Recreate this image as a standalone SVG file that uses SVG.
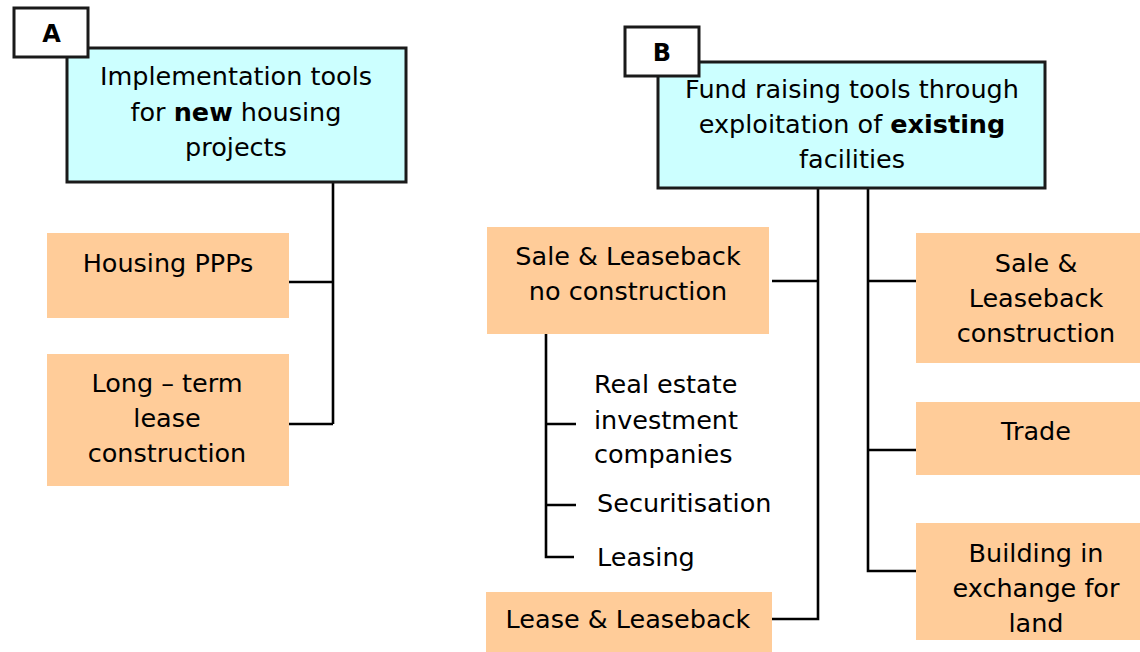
<svg xmlns="http://www.w3.org/2000/svg" width="1140" height="652" viewBox="0 0 1140 652">
<style>
.hdr{fill:#CCFFFF;stroke:#1a1a1a;stroke-width:3}
.lbl{fill:#FFFFFF;stroke:#1a1a1a;stroke-width:3}
.box{fill:#FFCC99;stroke:none}
.t{font-family:"DejaVu Sans",Verdana,sans-serif;font-size:25.5px;fill:#000}
.c{text-anchor:middle}
.b{font-weight:bold}
.lt{font-family:"DejaVu Sans",Verdana,sans-serif;font-size:24px;font-weight:bold;text-anchor:middle;fill:#000}
.ln{fill:none;stroke:#000;stroke-width:2.6}
</style>
<g id="connectors">
<path class="ln" d="M333,183 V424 M288,282 H333 M288,424 H333"/>
<path class="ln" d="M818,188 V619 H772 M772,281 H818"/>
<path class="ln" d="M868,188 V571 H916 M868,281 H916 M868,450 H916"/>
<path class="ln" d="M546,334 V557 H574 M546,424 H576 M546,505 H576"/>
</g>
<g id="nodeA">
<rect class="hdr" x="67" y="48" width="339" height="134"/>
<text class="t c" x="236" y="85">Implementation tools</text>
<text class="t c" x="236" y="121">for <tspan class="b">new</tspan> housing</text>
<text class="t c" x="236" y="156">projects</text>
</g>
<g id="labelA">
<rect class="lbl" x="14" y="8" width="74" height="49"/>
<text class="lt" x="51.5" y="42">A</text>
</g>
<g id="housingPPPs">
<rect class="box" x="47" y="233" width="242" height="85"/>
<text class="t c" x="168" y="272">Housing PPPs</text>
</g>
<g id="longTerm">
<rect class="box" x="47" y="354" width="242" height="132"/>
<text class="t c" x="167" y="392">Long – term</text>
<text class="t c" x="167" y="427">lease</text>
<text class="t c" x="167" y="462">construction</text>
</g>
<g id="nodeB">
<rect class="hdr" x="658" y="62" width="387" height="126"/>
<text class="t c" x="852" y="98">Fund raising tools through</text>
<text class="t c" x="852" y="133">exploitation of <tspan class="b">existing</tspan></text>
<text class="t c" x="852" y="168">facilities</text>
</g>
<g id="labelB">
<rect class="lbl" x="625" y="27" width="74" height="49"/>
<text class="lt" x="662" y="61">B</text>
</g>
<g id="saleNoConstruction">
<rect class="box" x="487" y="227" width="282" height="107"/>
<text class="t c" x="628" y="265">Sale &amp; Leaseback</text>
<text class="t c" x="628" y="300">no construction</text>
</g>
<g id="reit">
<text class="t" x="594" y="393">Real estate</text>
<text class="t" x="594" y="429">investment</text>
<text class="t" x="594" y="463">companies</text>
</g>
<g id="securitisation">
<text class="t" x="597" y="512">Securitisation</text>
</g>
<g id="leasing">
<text class="t" x="597" y="566">Leasing</text>
</g>
<g id="leaseLeaseback">
<rect class="box" x="486" y="592" width="286" height="60"/>
<text class="t c" x="628" y="628">Lease &amp; Leaseback</text>
</g>
<g id="saleConstruction">
<rect class="box" x="916" y="233" width="224" height="130"/>
<text class="t c" x="1036" y="272">Sale &amp;</text>
<text class="t c" x="1036" y="307">Leaseback</text>
<text class="t c" x="1036" y="342">construction</text>
</g>
<g id="trade">
<rect class="box" x="916" y="402" width="224" height="73"/>
<text class="t c" x="1036" y="440">Trade</text>
</g>
<g id="building">
<rect class="box" x="916" y="523" width="224" height="117"/>
<text class="t c" x="1036" y="562">Building in</text>
<text class="t c" x="1036" y="597">exchange for</text>
<text class="t c" x="1036" y="632">land</text>
</g>
</svg>
